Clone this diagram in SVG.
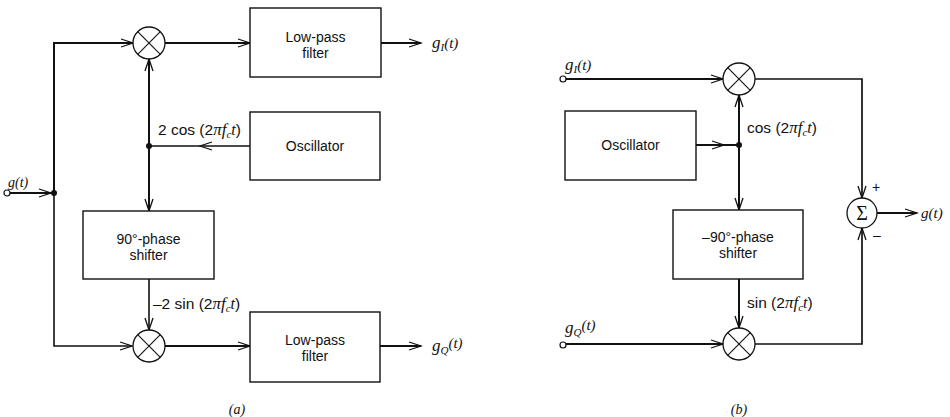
<svg xmlns="http://www.w3.org/2000/svg" width="950" height="417" viewBox="0 0 950 417">
<defs>
<style>
.box{fill:#fff;stroke:#111;stroke-width:1.4}
.mix{fill:#fff;stroke:#111;stroke-width:1.3}
.x{stroke:#111;stroke-width:1.1}
.w{fill:none;stroke:#111;stroke-width:2}
.lbl{font-family:"Liberation Sans",Arial,sans-serif;font-size:14px;fill:#111}
.f{font-family:"Liberation Sans",Arial,sans-serif;font-size:15.5px;fill:#111}
.m{font-family:"Liberation Serif","Times New Roman",serif;font-style:italic;fill:#111}
.term{fill:#fff;stroke:#111;stroke-width:1.2}
</style>
<marker id="ah" markerUnits="userSpaceOnUse" markerWidth="14" markerHeight="10" refX="12" refY="4" orient="auto" overflow="visible">
<path d="M0,0 L12,4 L0,8" fill="none" stroke="#111" stroke-width="1.3"/>
</marker>
</defs>
<rect width="950" height="417" fill="#fff"/>

<g id="connectors">
<!-- panel a -->
<line class="w" x1="10" y1="193" x2="51" y2="193" marker-end="url(#ah)"/>
<path class="w" d="M54,193 V43 H133" marker-end="url(#ah)"/>
<path class="w" d="M54,193 V346 H132" style="stroke-width:1.6" marker-end="url(#ah)"/>
<line class="w" x1="165" y1="43" x2="250" y2="43" marker-end="url(#ah)"/>
<line class="w" x1="381" y1="43" x2="421" y2="43" marker-end="url(#ah)"/>
<line class="w" x1="250" y1="146" x2="200" y2="146" style="stroke-width:1.6" marker-end="url(#ah)"/>
<line class="w" x1="200" y1="146" x2="149" y2="146" style="stroke-width:1.6"/>
<line class="w" x1="149" y1="146" x2="149" y2="59" marker-end="url(#ah)"/>
<line class="w" x1="149" y1="146" x2="149" y2="211" marker-end="url(#ah)"/>
<line class="w" x1="149" y1="279" x2="149" y2="330" style="stroke-width:1.6" marker-end="url(#ah)"/>
<line class="w" x1="165" y1="346" x2="250" y2="346" marker-end="url(#ah)"/>
<line class="w" x1="380" y1="346" x2="421" y2="346" marker-end="url(#ah)"/>
<!-- panel b -->
<line class="w" x1="566" y1="79" x2="723" y2="79" marker-end="url(#ah)"/>
<line class="w" x1="696" y1="145" x2="724" y2="145" marker-end="url(#ah)"/>
<line class="w" x1="724" y1="145" x2="739" y2="145"/>
<line class="w" x1="739" y1="145" x2="739" y2="95" marker-end="url(#ah)"/>
<line class="w" x1="739" y1="145" x2="739" y2="210" marker-end="url(#ah)"/>
<line class="w" x1="739" y1="279" x2="739" y2="328" marker-end="url(#ah)"/>
<line class="w" x1="566" y1="344" x2="723" y2="344" marker-end="url(#ah)"/>
<path class="w" d="M755,79 H862 V198" style="stroke-width:1.7" marker-end="url(#ah)"/>
<path class="w" d="M755,344 H862 V228" style="stroke-width:1.7" marker-end="url(#ah)"/>
<line class="w" x1="877" y1="213" x2="917" y2="213" marker-end="url(#ah)"/>
</g>

<g id="a-input">
<circle class="term" cx="7" cy="193" r="3"/>
<text class="m" x="8" y="187" font-size="14">g(t)</text>
<circle cx="54" cy="193" r="3" fill="#111"/>
</g>
<g id="a-mixer-top">
<circle class="mix" cx="149" cy="43" r="16"/>
<line class="x" x1="137.7" y1="31.7" x2="160.3" y2="54.3"/>
<line class="x" x1="160.3" y1="31.7" x2="137.7" y2="54.3"/>
</g>
<g id="a-lpf-top">
<rect class="box" x="250" y="8" width="131" height="69"/>
<text class="lbl" x="315.5" y="41.5" text-anchor="middle">Low-pass</text>
<text class="lbl" x="315.5" y="57.5" text-anchor="middle">filter</text>
</g>
<g id="a-out-i">
<text class="m" x="432" y="48" font-size="17">g<tspan font-size="11" dy="3">I</tspan><tspan dy="-3" font-size="15">(t)</tspan></text>
</g>
<g id="a-osc">
<rect class="box" x="250" y="112" width="130" height="68"/>
<text class="lbl" x="315" y="151" text-anchor="middle">Oscillator</text>
</g>
<g id="a-junction">
<circle cx="149" cy="146" r="3" fill="#111"/>
<text class="f" x="158" y="135">2 cos (2<tspan class="m" font-size="17">πf</tspan><tspan class="m" font-size="11" dy="3">c</tspan><tspan class="m" font-size="16" dy="-3">t</tspan>)</text>
</g>
<g id="a-shifter">
<rect class="box" x="83" y="211" width="131" height="68"/>
<text class="lbl" x="148.5" y="244" text-anchor="middle">90°-phase</text>
<text class="lbl" x="148.5" y="260" text-anchor="middle">shifter</text>
<text class="f" x="153" y="309">–2 sin (2<tspan class="m" font-size="17">πf</tspan><tspan class="m" font-size="11" dy="3">c</tspan><tspan class="m" font-size="16" dy="-3">t</tspan>)</text>
</g>
<g id="a-mixer-bottom">
<circle class="mix" cx="149" cy="346" r="16"/>
<line class="x" x1="137.7" y1="334.7" x2="160.3" y2="357.3"/>
<line class="x" x1="160.3" y1="334.7" x2="137.7" y2="357.3"/>
</g>
<g id="a-lpf-bottom">
<rect class="box" x="250" y="312" width="130" height="70"/>
<text class="lbl" x="315" y="345" text-anchor="middle">Low-pass</text>
<text class="lbl" x="315" y="361" text-anchor="middle">filter</text>
</g>
<g id="a-out-q">
<text class="m" x="432" y="351" font-size="17">g<tspan font-size="11" dy="3">Q</tspan><tspan dy="-6" font-size="15">(t)</tspan></text>
</g>
<g id="a-caption">
<text class="m" x="237" y="414" font-size="14" text-anchor="middle">(a)</text>
</g>

<g id="b-input-i">
<circle class="term" cx="563" cy="79" r="3"/>
<text class="m" x="565" y="70" font-size="17">g<tspan font-size="11" dy="3">I</tspan><tspan dy="-3" font-size="15">(t)</tspan></text>
</g>
<g id="b-mixer-top">
<circle class="mix" cx="739" cy="79" r="16"/>
<line class="x" x1="727.7" y1="67.7" x2="750.3" y2="90.3"/>
<line class="x" x1="750.3" y1="67.7" x2="727.7" y2="90.3"/>
</g>
<g id="b-osc">
<rect class="box" x="565" y="111" width="131" height="69"/>
<text class="lbl" x="630.5" y="150" text-anchor="middle">Oscillator</text>
</g>
<g id="b-junction">
<circle cx="739" cy="145" r="3" fill="#111"/>
<text class="f" x="747" y="133">cos (2<tspan class="m" font-size="17">πf</tspan><tspan class="m" font-size="11" dy="3">c</tspan><tspan class="m" font-size="16" dy="-3">t</tspan>)</text>
</g>
<g id="b-shifter">
<rect class="box" x="673" y="210" width="130" height="69"/>
<text class="lbl" x="738" y="242" text-anchor="middle">–90°-phase</text>
<text class="lbl" x="738" y="258" text-anchor="middle">shifter</text>
<text class="f" x="747" y="308">sin (2<tspan class="m" font-size="17">πf</tspan><tspan class="m" font-size="11" dy="3">c</tspan><tspan class="m" font-size="16" dy="-3">t</tspan>)</text>
</g>
<g id="b-input-q">
<circle class="term" cx="563" cy="345" r="3"/>
<text class="m" x="565" y="333" font-size="17">g<tspan font-size="11" dy="3">Q</tspan><tspan dy="-6" font-size="15">(t)</tspan></text>
</g>
<g id="b-mixer-bottom">
<circle class="mix" cx="739" cy="344" r="16"/>
<line class="x" x1="727.7" y1="332.7" x2="750.3" y2="355.3"/>
<line class="x" x1="750.3" y1="332.7" x2="727.7" y2="355.3"/>
</g>
<g id="b-sum">
<circle class="mix" cx="862" cy="213" r="15"/>
<text x="862" y="220" text-anchor="middle" font-family="Liberation Serif,serif" font-size="20" fill="#111">Σ</text>
<text class="lbl" x="872" y="192" font-size="14">+</text>
<text class="lbl" x="873" y="240" font-size="14">–</text>
</g>
<g id="b-out">
<text class="m" x="921" y="218" font-size="15">g(t)</text>
</g>
<g id="b-caption">
<text class="m" x="739" y="414" font-size="14" text-anchor="middle">(b)</text>
</g>
</svg>
